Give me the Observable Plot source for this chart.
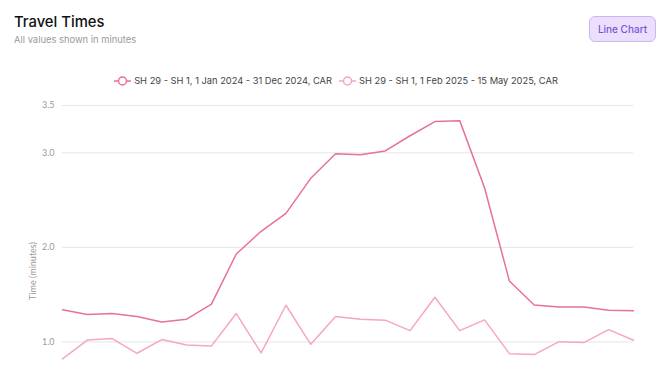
<!DOCTYPE html>
<html>
<head>
<meta charset="utf-8">
<script src="https://cdn.jsdelivr.net/npm/d3@7"></script>
<script src="https://cdn.jsdelivr.net/npm/@observablehq/plot@0.6"></script>
<style>
  html, body { margin: 0; padding: 0; background: #fff; font-family: Inter, "Noto Sans", sans-serif; overflow: hidden; }
  #wrap { position: relative; width: 670px; height: 381px; overflow: hidden; }
  #title { position: absolute; left: 14px; top: 13px; font-size: 14.8px; color: #111; font-weight: 500; }
  #subtitle { position: absolute; left: 14px; top: 34px; font-size: 9.4px; color: #9a9a9a; }
  #btn { position: absolute; left: 589px; top: 16px; width: 67px; height: 26px; box-sizing: border-box; background: #ebdffd; border: 1px solid #cdb6f5; border-radius: 6px; color: #7a55d4; font-size: 10px; font-weight: 500; display: flex; align-items: center; justify-content: center; }
  #legend { position: absolute; left: 0; width: 672px; top: 75px; display: flex; justify-content: center; gap: 7px; font-size: 9.3px; color: #444; }
  .item { display: flex; align-items: center; gap: 3px; }
  #chart { position: absolute; left: 0; top: 95px; }
</style>
</head>
<body>
<div id="wrap">
  <div id="title">Travel Times</div>
  <div id="subtitle">All values shown in minutes</div>
  <div id="btn">Line Chart</div>
  <div id="legend"></div>
  <div id="chart"></div>
</div>
<script>
const hours = [0,1,2,3,4,5,6,7,8,9,10,11,12,13,14,15,16,17,18,19,20,21,22,23];
const series2024 = [1.34,1.29,1.30,1.27,1.21,1.24,1.40,1.93,2.17,2.36,2.73,2.99,2.98,3.02,3.18,3.33,3.34,2.63,1.645,1.39,1.37,1.37,1.335,1.33];
const series2025 = [0.82,1.02,1.035,0.88,1.025,0.968,0.958,1.30,0.884,1.388,0.975,1.27,1.24,1.23,1.12,1.473,1.12,1.233,0.876,0.866,1.003,0.993,1.13,1.018];
const seriesNames = ["SH 29 - SH 1, 1 Jan 2024 - 31 Dec 2024, CAR", "SH 29 - SH 1, 1 Feb 2025 - 15 May 2025, CAR"];
const seriesColors = ["#e8709c", "#f6a5c7"];
const yTicks = [1, 2, 3, 3.5];

const rows = [];
[series2024, series2025].forEach((vals, s) => {
  vals.forEach((v, i) => rows.push({hour: hours[i], value: v, series: seriesNames[s]}));
});

// legend
const legend = document.getElementById("legend");
seriesNames.forEach((name, i) => {
  const item = document.createElement("div");
  item.className = "item";
  item.innerHTML = `<svg width="17" height="10"><line x1="0" y1="5" x2="17" y2="5" stroke="${seriesColors[i]}" stroke-width="1.5"/><circle cx="8.5" cy="5" r="4" fill="#fff" stroke="${seriesColors[i]}" stroke-width="1.5"/></svg><span>${name}</span>`;
  legend.appendChild(item);
});

const chart = Plot.plot({
  width: 670,
  height: 371,
  marginLeft: 62,
  marginRight: 37,
  marginTop: 10,
  marginBottom: 30,
  style: {fontFamily: "Lato, Inter, sans-serif", fontSize: "9px", background: "transparent"},
  x: {domain: [0, 23], axis: null},
  y: {domain: [0, 3.5]},
  color: {domain: seriesNames, range: seriesColors},
  marks: [
    Plot.gridY(yTicks, {stroke: "#e6e6ea", strokeOpacity: 1}),
    Plot.axisY(yTicks, {tickSize: 0, tickPadding: 8, tickFormat: d3.format(".1f"), fill: "#9a9a9a", label: "Time (minutes)", labelAnchor: "center", labelArrow: "none", labelOffset: 33}),
    Plot.line(rows, {x: "hour", y: "value", z: "series", stroke: "series", strokeWidth: 1.5})
  ]
});
document.getElementById("chart").appendChild(chart);
</script>
</body>
</html>
